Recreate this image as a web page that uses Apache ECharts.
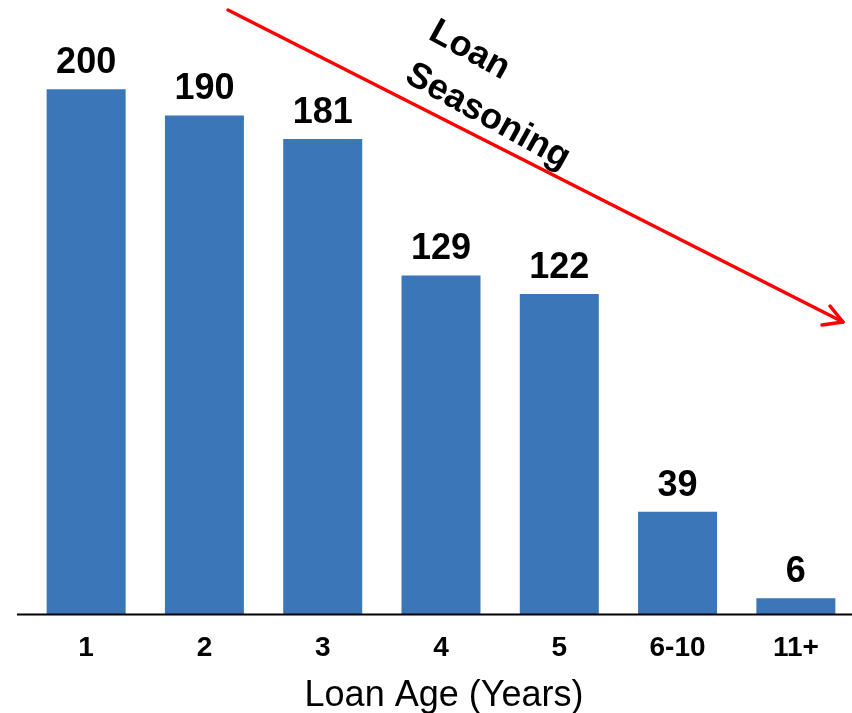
<!DOCTYPE html>
<html>
<head>
<meta charset="utf-8">
<script src="https://cdn.jsdelivr.net/npm/echarts@6/dist/echarts.min.js"></script>
<style>
  html, body { margin: 0; padding: 0; background: #fff; }
  #chart { width: 852px; height: 713px; }
</style>
</head>
<body>
<div id="chart"></div>
<script>
// Loan counts by age bucket
const categories = ['1', '2', '3', '4', '5', '6-10', '11+'];
const loanCounts = [200, 190, 181, 129, 122, 39, 6];
const axisTitle = 'Loan Age (Years)';
const arrowCaption = 'Loan\nSeasoning';

const chart = echarts.init(document.getElementById('chart'), null, { renderer: 'canvas' });

const baseFont = 'Liberation Sans, Arial, sans-serif';
const deg = Math.PI / 180;

chart.setOption({
  animation: false,
  backgroundColor: '#ffffff',
  grid: { left: 27, right: -3, top: 0, bottom: 99, containLabel: false, outerBoundsMode: 'none' },
  xAxis: {
    type: 'category',
    data: categories,
    axisLine: { show: false },
    axisTick: { show: false },
    axisLabel: {
      margin: 20,
      fontFamily: baseFont,
      fontWeight: 'bold',
      fontSize: 28,
      color: '#000'
    },
    name: axisTitle,
    nameLocation: 'middle',
    nameGap: 64,
    nameTextStyle: { fontFamily: baseFont, fontSize: 36, color: '#000', padding: [0, 0, 0, 6] }
  },
  yAxis: {
    type: 'value',
    min: 0,
    max: 234,
    show: false,
    splitLine: { show: false }
  },
  series: [{
    type: 'bar',
    data: loanCounts,
    barWidth: 79,
    itemStyle: { color: '#3A76B8' },
    label: {
      show: true,
      position: 'top',
      distance: 8,
      fontFamily: baseFont,
      fontWeight: 'bold',
      fontSize: 36,
      color: '#000'
    }
  }],
  graphic: [
    // baseline under the bars
    { type: 'line', shape: { x1: 17, y1: 614.5, x2: 852, y2: 614.5 },
      style: { stroke: '#000', lineWidth: 2 }, z: 10 },
    // seasoning arrow
    { type: 'line', shape: { x1: 228, y1: 10, x2: 843, y2: 322 },
      style: { stroke: '#FF0000', lineWidth: 3.5, lineCap: 'round' }, z: 10 },
    { type: 'polyline', shape: { points: [[830, 306], [843, 322], [822, 325]] },
      style: { stroke: '#FF0000', fill: null, lineWidth: 3.5, lineCap: 'round', lineJoin: 'round' }, z: 10 },
    // caption along the arrow
    { type: 'text', x: 420, y: 51, rotation: -29 * deg, z: 10,
      style: {
        text: arrowCaption,
        fontFamily: baseFont,
        fontWeight: 'bold',
        fontSize: 36,
        lineHeight: 49,
        fill: '#000',
        align: 'left',
        verticalAlign: 'middle'
      } }
  ]
});
</script>
</body>
</html>
